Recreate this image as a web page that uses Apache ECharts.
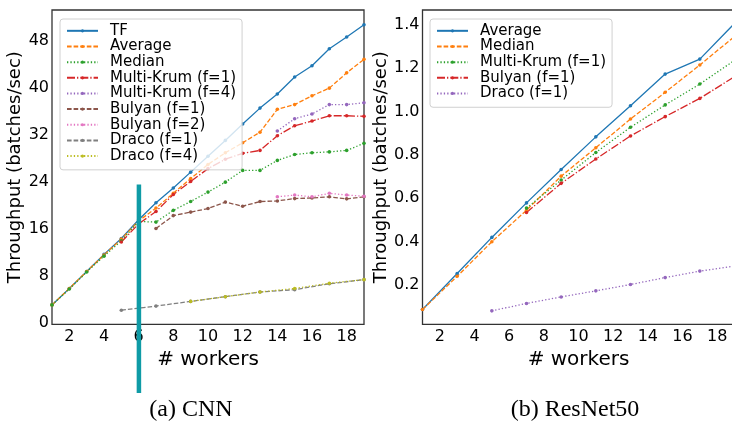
<!DOCTYPE html>
<html><head><meta charset="utf-8">
<script src="https://cdn.jsdelivr.net/npm/echarts@6/dist/echarts.min.js"></script>
<style>html,body{margin:0;padding:0;background:#fff}#c{width:732px;height:424px}</style>
</head><body><div id="c"></div>
<script>
// ---------- data: (a) CNN ----------
const cnnWorkers = [1,2,3,4,5,6,7,8,9,10,11,12,13,14,15,16,17,18,19];
const cnnTF      = [3.0,5.8,8.7,11.6,14.3,17.5,20.4,22.9,25.6,28.3,31.0,33.8,36.5,38.9,41.8,43.7,46.6,48.6,50.7];
const cnnAverage = [3.0,5.8,8.7,11.5,14.2,17.3,19.5,22.0,24.5,26.9,28.9,30.6,32.4,36.3,37.1,38.6,39.9,42.5,44.8];
const cnnMedian  = [3.0,5.7,8.6,11.3,13.9,17.2,17.1,19.1,20.6,22.2,23.9,25.9,25.9,27.6,28.6,28.9,29.05,29.3,30.5];
const cnnMK1Workers = [5,6,7,8,9,10,11,12,13,14,15,16,17,18,19];
const cnnMK1       = [13.7,16.8,18.9,21.8,24.0,26.2,27.8,28.8,29.3,31.8,33.5,34.3,35.2,35.2,35.1];
const cnnMK4Workers = [14,15,16,17,18,19];
const cnnMK4       = [32.6,34.7,35.5,37.1,37.1,37.4];
const cnnB1Workers = [7,8,9,10,11,12,13,14,15,16,17,18,19];
const cnnB1        = [16.0,18.2,18.8,19.4,20.5,19.8,20.6,20.7,21.1,21.2,21.4,21.05,21.4];
const cnnB2Workers = [14,15,16,17,18,19];
const cnnB2        = [21.4,21.7,21.4,22.0,21.7,21.5];
const cnnD1Workers = [5,7,9,11,13,15,17,19];
const cnnD1        = [2.1,2.8,3.6,4.4,5.2,5.6,6.6,7.3];
const cnnD4Workers = [9,11,13,15,17,19];
const cnnD4        = [3.6,4.4,5.2,5.8,6.7,7.3];
const cnnTicksX = [2,4,6,8,10,12,14,16,18];
const cnnTicksY = [0,8,16,24,32,40,48];

// ---------- data: (b) ResNet50 ----------
const resWorkers = [1,3,5,7,9,11,13,15,17,19];
const resAverage = [0.088,0.254,0.42,0.579,0.733,0.883,1.026,1.172,1.241,1.405];
const resMedian  = [0.088,0.241,0.40,0.545,0.702,0.833,0.965,1.088,1.214,1.345];
const resMKWorkers = [7,9,11,13,15,17,19];
const resMK        = [0.555,0.684,0.811,0.927,1.03,1.126,1.235];
const resBWorkers  = [7,9,11,13,15,17,19];
const resB         = [0.535,0.669,0.781,0.887,0.976,1.06,1.16];
const resDWorkers  = [5,7,9,11,13,15,17,19];
const resD         = [0.082,0.116,0.146,0.174,0.203,0.235,0.265,0.288];
const resTicksX = [2,4,6,8,10,12,14,16,18];
const resTicksY = [0.2,0.4,0.6,0.8,1.0,1.2,1.4];

const captions = ['(a) CNN', '(b) ResNet50'];

// ---------- styles ----------
const LW = 1.3;
const DASH = [4.6,2.0], DOT = [1.3,2.1], DASHDOT = [8.0,2.0,1.3,2.0];
const FONT = 'DejaVu Sans';

function pairs(xs, ys){ return xs.map((x,i)=>[x, ys[i]]); }
function line(name, color, dash, xs, ys, gi){
  return {
    type:'line', name:name, xAxisIndex:gi, yAxisIndex:gi,
    data:pairs(xs, ys), symbol:'circle', symbolSize:3.6, showSymbol:true,
    itemStyle:{color:color}, lineStyle:{color:color, width:LW, type:dash},
    emphasis:{disabled:true}, animation:false
  };
}
const P = 'b:'; // prefix to keep right-chart names distinct
const series = [
  line('TF','#1f77b4','solid',cnnWorkers,cnnTF,0),
  line('Average','#ff7f0e',DASH,cnnWorkers,cnnAverage,0),
  line('Median','#2ca02c',DOT,cnnWorkers,cnnMedian,0),
  line('Multi-Krum (f=1)','#d62728',DASHDOT,cnnMK1Workers,cnnMK1,0),
  line('Multi-Krum (f=4)','#9467bd',DOT,cnnMK4Workers,cnnMK4,0),
  line('Bulyan (f=1)','#8c564b',DASH,cnnB1Workers,cnnB1,0),
  line('Bulyan (f=2)','#e377c2',DOT,cnnB2Workers,cnnB2,0),
  line('Draco (f=1)','#7f7f7f',DASH,cnnD1Workers,cnnD1,0),
  line('Draco (f=4)','#bcbd22',DOT,cnnD4Workers,cnnD4,0),
  line(P+'Average','#1f77b4','solid',resWorkers,resAverage,1),
  line(P+'Median','#ff7f0e',DASH,resWorkers,resMedian,1),
  line(P+'Multi-Krum (f=1)','#2ca02c',DOT,resMKWorkers,resMK,1),
  line(P+'Bulyan (f=1)','#d62728',DASHDOT,resBWorkers,resB,1),
  line(P+'Draco (f=1)','#9467bd',DOT,resDWorkers,resD,1)
];

const gridBase = {top:10, width:312, height:314.3, show:true, borderColor:'#333', borderWidth:1.3,
                  backgroundColor:'transparent', containLabel:false, outerBoundsMode:'none'};
function xAxis(gi, ticks){
  return {type:'value', gridIndex:gi, min:1, max:19, name:'# workers', nameLocation:'middle', nameGap:18,
    nameTextStyle:{fontFamily:FONT, fontSize:20, color:'#000'},
    axisLine:{show:false}, splitLine:{show:false},
    axisTick:{show:false, customValues:ticks},
    axisLabel:{customValues:ticks, fontFamily:FONT, fontSize:16, color:'#000', margin:5}};
}
function yAxis(gi, ticks, min, max, fmt, gap){
  return {type:'value', gridIndex:gi, min:min, max:max, name:'Throughput (batches/sec)', nameLocation:'middle', nameGap:gap,
    nameTextStyle:{fontFamily:FONT, fontSize:18, color:'#000'},
    axisLine:{show:false}, splitLine:{show:false},
    axisTick:{show:false, customValues:ticks},
    axisLabel:{customValues:ticks, fontFamily:FONT, fontSize:16, color:'#000', margin:3, formatter:fmt}};
}
function legend(left, names){
  return {orient:'vertical', left:left, top:19, data:names, itemWidth:31, itemHeight:4, itemGap:0,
    padding:[4,6,6,6], backgroundColor:'rgba(255,255,255,0.8)', borderColor:'#d0d0d0', borderWidth:1, borderRadius:3,
    textStyle:{fontFamily:FONT, fontSize:15, color:'#000', lineHeight:15.65, padding:[0,0,0,7]},
    formatter:n=>n.replace(/^b:/,''), selectedMode:false};
}

const chart = echarts.init(document.getElementById('c'), null, {renderer:'canvas'});
chart.setOption({
  animation:false,
  backgroundColor:'#fff',
  grid:[Object.assign({left:52}, gridBase), Object.assign({left:422.5}, gridBase)],
  xAxis:[xAxis(0,cnnTicksX), xAxis(1,resTicksX)],
  yAxis:[yAxis(0,cnnTicksY,-0.3,53.2,v=>String(Math.round(v)),23),
         yAxis(1,resTicksY,0.02,1.467,v=>v.toFixed(1),30)],
  legend:[legend(60, series.slice(0,9).map(s=>s.name)), legend(430, series.slice(9).map(s=>s.name))],
  series:series
});
// teal annotation bar at workers = 6 on the CNN panel
const bx = chart.convertToPixel({xAxisIndex:0}, 6);
const by = chart.convertToPixel({yAxisIndex:0}, 24);
chart.setOption({graphic:[
  {type:'text', x:191, y:410, style:{text:captions[0], font:'24px "Liberation Serif"', fill:'#000', align:'center', verticalAlign:'middle'}},
  {type:'text', x:575, y:410, style:{text:captions[1], font:'24px "Liberation Serif"', fill:'#000', align:'center', verticalAlign:'middle'}},
  {type:'rect', shape:{x:bx-2, y:by+3, width:4.5, height:393-by-3}, style:{fill:'#0f9ba6'}, z:100}
]});
</script></body></html>
